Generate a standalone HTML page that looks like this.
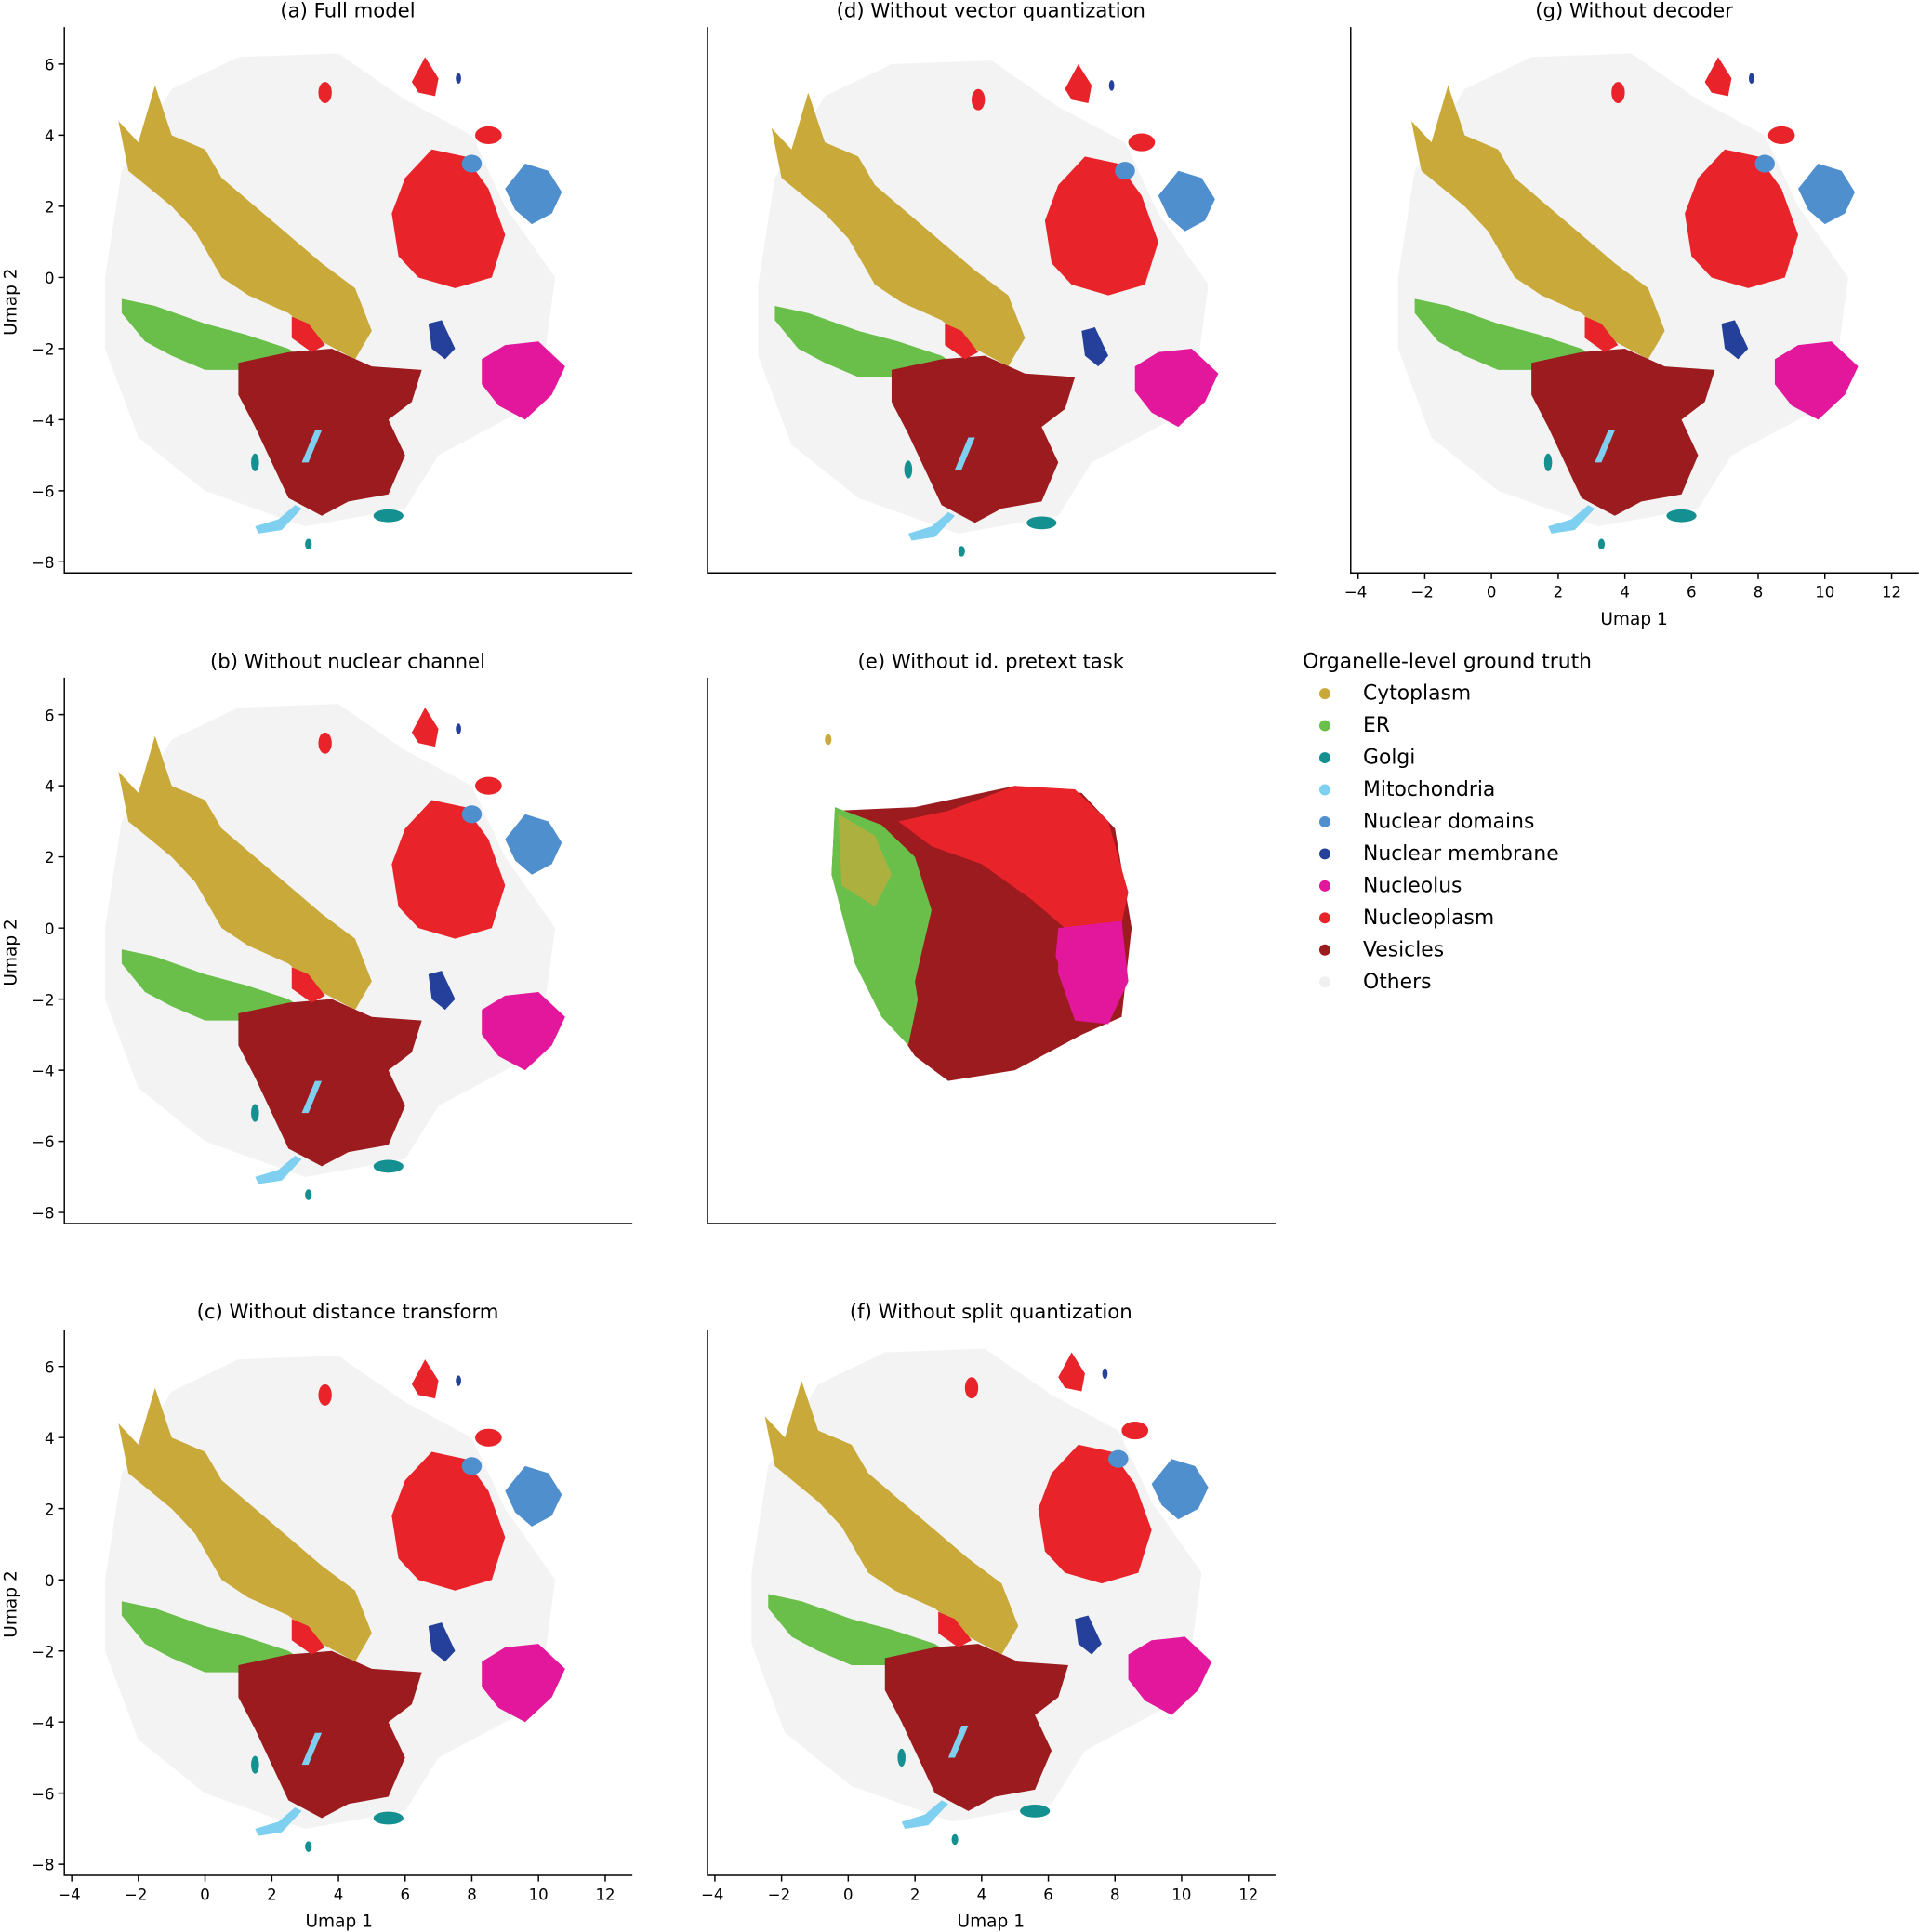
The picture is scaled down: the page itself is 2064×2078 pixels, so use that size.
<!DOCTYPE html>
<html><head><meta charset="utf-8"><style>
html,body{margin:0;padding:0;background:#fff;}
svg{display:block;font-family:"DejaVu Sans","Liberation Sans",sans-serif;}
.t{font-size:12.5px;fill:#000;}
.ti{font-size:16px;fill:#000;text-anchor:middle;}
.lg{font-size:16.5px;fill:#000;}
</style></head><body>
<svg width="2064" height="2078" viewBox="0 0 1557 1568" xmlns="http://www.w3.org/2000/svg">
<defs>
<g id="blobs">
  <polygon fill="#f3f3f3" points="-2.5,3 -1,5.3 1,6.2 4,6.3 6,5 8,4 9,2 10.5,0 10,-3.5 7,-5 6,-6.5 3,-7 0,-6 -2,-4.5 -3,-2 -3,0"/>
  <polygon fill="#c9a93a" points="-2.6,4.4 -2,3.8 -1.5,5.4 -1,4 0,3.6 0.5,2.8 1.5,2 2.5,1.2 3.5,0.4 4.5,-0.3 5,-1.5 4.5,-2.3 3.5,-1.8 2.5,-1 1.3,-0.5 0.5,0 -0.3,1.3 -1,2 -2.3,3"/>
  <polygon fill="#6abf4b" points="-2.5,-0.6 -1.5,-0.8 0,-1.3 1.2,-1.6 2.5,-2 3.5,-2.6 3,-2.9 1.5,-2.6 0,-2.6 -1,-2.2 -1.8,-1.8 -2.5,-1"/>
  <polygon fill="#9b1b1f" points="1,-2.4 2.5,-2.1 3.8,-2 5,-2.5 6.5,-2.6 6.2,-3.5 5.5,-4 6,-5 5.5,-6.1 4.3,-6.3 3.5,-6.7 2.5,-6.2 2,-5.2 1.5,-4.2 1,-3.3"/>
  <polygon fill="#e8232a" points="5.6,1.8 6,2.8 6.8,3.6 7.8,3.4 8.5,2.5 9,1.2 8.6,0 7.5,-0.3 6.4,0 5.8,0.6"/>
  <polygon fill="#e8232a" points="6.2,5.5 6.6,6.2 7,5.6 6.9,5.1 6.4,5.2"/>
  <polygon fill="#e8232a" points="2.6,-1.1 3.1,-1.3 3.6,-1.9 3.2,-2.1 2.6,-1.7"/>
  <ellipse fill="#e8232a" cx="3.6" cy="5.2" rx="0.2" ry="0.3"/>
  <ellipse fill="#e8232a" cx="8.5" cy="4" rx="0.4" ry="0.25"/>
  <polygon fill="#4f8fce" points="9,2.5 9.6,3.2 10.3,3 10.7,2.4 10.4,1.8 9.8,1.5 9.3,1.9"/>
  <ellipse fill="#4f8fce" cx="8" cy="3.2" rx="0.3" ry="0.25"/>
  <polygon fill="#24409a" points="6.7,-1.3 7.1,-1.2 7.5,-2 7.2,-2.3 6.8,-2"/>
  <ellipse fill="#24409a" cx="7.6" cy="5.6" rx="0.08" ry="0.15"/>
  <polygon fill="#e3179b" points="8.3,-2.3 9,-1.9 10,-1.8 10.8,-2.5 10.4,-3.3 9.6,-4 8.8,-3.6 8.3,-3"/>
  <polygon fill="#7fd0f0" points="1.5,-7 2.2,-6.8 2.7,-6.4 2.9,-6.5 2.3,-7.1 1.6,-7.2"/>
  <polygon fill="#7fd0f0" points="3.3,-4.3 3.5,-4.3 3.1,-5.2 2.9,-5.2"/>
  <ellipse fill="#13908f" cx="1.5" cy="-5.2" rx="0.12" ry="0.25"/>
  <ellipse fill="#13908f" cx="5.5" cy="-6.7" rx="0.45" ry="0.18"/>
  <ellipse fill="#13908f" cx="3.1" cy="-7.5" rx="0.1" ry="0.15"/>
</g>
<g id="blobsE">
  <polygon fill="#9b1b1f" points="-0.4,3.3 2,3.4 5,4 7,3.8 8,2.8 8.5,0 8.2,-2.5 7,-3 5,-4 3,-4.3 2,-3.6 0.5,-1.5 -0.5,1.5"/>
  <polygon fill="#6abf4b" points="-0.4,3.4 1,2.9 2,2 2.5,0.5 2.2,-1.5 1.8,-3.3 1,-2.5 0.2,-1 -0.5,1.5"/>
  <polygon fill="#c9a93a" opacity="0.7" points="-0.3,3.2 0.8,2.6 1.3,1.5 0.8,0.6 -0.2,1.2"/>
  <polygon fill="#e8232a" points="1.5,3 3,3.3 5,4 6.8,3.9 7.8,3 8.4,1 8.1,-0.3 6.5,0 5.5,0.8 4,1.8 2.5,2.3"/>
  <polygon fill="#e3179b" points="6.3,0 8.2,0.2 8.4,-1.5 7.8,-2.7 6.8,-2.6 6.2,-1"/>
  <polygon fill="#9b1b1f" points="2.5,0.5 4.5,0.8 5.8,0.3 6.3,-1 6.2,-2.8 5,-3.8 3.2,-4.2 2.3,-3.3 2,-1.5"/>
  <ellipse fill="#c9a93a" cx="-0.6" cy="5.3" rx="0.1" ry="0.15"/>
</g>
</defs>

<use href="#blobs" transform="translate(166.2,225.2) scale(27.06,-28.86)"/>
<use href="#blobs" transform="translate(688.2,225.2) scale(27.06,-28.86) translate(0.3,-0.2)"/>
<use href="#blobs" transform="translate(1210.2,225.2) scale(27.06,-28.86) translate(0.2,0)"/>
<use href="#blobs" transform="translate(166.2,753.2) scale(27.06,-28.86)"/>
<use href="#blobsE" transform="translate(688.2,753.2) scale(27.06,-28.86)"/>
<use href="#blobs" transform="translate(166.2,1282.2) scale(27.06,-28.86)"/>
<use href="#blobs" transform="translate(688.2,1282.2) scale(27.06,-28.86) translate(0.1,0.2)"/>

<g stroke="#000" stroke-width="1.1" fill="none">
<path d="M52,22V465H513"/><path d="M574,22V465H1035"/><path d="M1096,22V465H1557"/>
<path d="M52,550V993H513"/><path d="M574,550V993H1035"/>
<path d="M52,1079V1522H513"/><path d="M574,1079V1522H1035"/>
<path d="M47,52H52M47,109.7H52M47,167.4H52M47,225.2H52M47,282.9H52M47,340.6H52M47,398.3H52M47,456H52"/>
<path d="M47,580H52M47,637.7H52M47,695.4H52M47,753.2H52M47,810.9H52M47,868.6H52M47,926.3H52M47,984H52"/>
<path d="M47,1109H52M47,1166.7H52M47,1224.4H52M47,1282.2H52M47,1339.9H52M47,1397.6H52M47,1455.3H52M47,1513H52"/>
<path d="M58,1522V1527M112.1,1522V1527M166.2,1522V1527M220.4,1522V1527M274.5,1522V1527M328.6,1522V1527M382.7,1522V1527M436.8,1522V1527M491,1522V1527"/>
<path d="M580,1522V1527M634.1,1522V1527M688.2,1522V1527M742.4,1522V1527M796.5,1522V1527M850.6,1522V1527M904.7,1522V1527M958.8,1522V1527M1013,1522V1527"/>
<path d="M1102,465V470M1156.1,465V470M1210.2,465V470M1264.4,465V470M1318.5,465V470M1372.6,465V470M1426.7,465V470M1480.8,465V470M1535,465V470"/>
</g>

<g class="t" text-anchor="end">
<text x="44" y="57">6</text><text x="44" y="114.7">4</text><text x="44" y="172.4">2</text><text x="44" y="230.2">0</text><text x="44" y="287.9">−2</text><text x="44" y="345.6">−4</text><text x="44" y="403.3">−6</text><text x="44" y="461">−8</text>
<text x="44" y="585">6</text><text x="44" y="642.7">4</text><text x="44" y="700.4">2</text><text x="44" y="758.2">0</text><text x="44" y="815.9">−2</text><text x="44" y="873.6">−4</text><text x="44" y="931.3">−6</text><text x="44" y="989">−8</text>
<text x="44" y="1114">6</text><text x="44" y="1171.7">4</text><text x="44" y="1229.4">2</text><text x="44" y="1287.2">0</text><text x="44" y="1344.9">−2</text><text x="44" y="1402.6">−4</text><text x="44" y="1460.3">−6</text><text x="44" y="1518">−8</text>
</g>
<g class="t" text-anchor="middle">
<text x="56" y="1542">−4</text><text x="110.1" y="1542">−2</text><text x="166.2" y="1542">0</text><text x="220.4" y="1542">2</text><text x="274.5" y="1542">4</text><text x="328.6" y="1542">6</text><text x="382.7" y="1542">8</text><text x="436.8" y="1542">10</text><text x="491" y="1542">12</text>
<text x="578" y="1542">−4</text><text x="632.1" y="1542">−2</text><text x="688.2" y="1542">0</text><text x="742.4" y="1542">2</text><text x="796.5" y="1542">4</text><text x="850.6" y="1542">6</text><text x="904.7" y="1542">8</text><text x="958.8" y="1542">10</text><text x="1013" y="1542">12</text>
<text x="1100" y="485">−4</text><text x="1154.1" y="485">−2</text><text x="1210.2" y="485">0</text><text x="1264.4" y="485">2</text><text x="1318.5" y="485">4</text><text x="1372.6" y="485">6</text><text x="1426.7" y="485">8</text><text x="1480.8" y="485">10</text><text x="1535" y="485">12</text>
<text x="275" y="1564" style="font-size:14px">Umap 1</text>
<text x="804" y="1564" style="font-size:14px">Umap 1</text>
<text x="1326" y="507" style="font-size:14px">Umap 1</text>
</g>
<g class="t" text-anchor="middle" style="font-size:14px">
<text transform="translate(13,245) rotate(-90)">Umap 2</text>
<text transform="translate(13,773) rotate(-90)">Umap 2</text>
<text transform="translate(13,1302) rotate(-90)">Umap 2</text>
</g>

<text class="ti" x="282" y="14">(a) Full model</text>
<text class="ti" x="804" y="14">(d) Without vector quantization</text>
<text class="ti" x="1326" y="14">(g) Without decoder</text>
<text class="ti" x="282" y="542">(b) Without nuclear channel</text>
<text class="ti" x="804" y="542">(e) Without id. pretext task</text>
<text class="ti" x="282" y="1070">(c) Without distance transform</text>
<text class="ti" x="804" y="1070">(f) Without split quantization</text>

<text class="lg" x="1057" y="542">Organelle-level ground truth</text>
<circle cx="1075" cy="563" r="4.5" fill="#c9a93a"/><text class="lg" x="1106" y="568">Cytoplasm</text>
<circle cx="1075" cy="589" r="4.5" fill="#6abf4b"/><text class="lg" x="1106" y="594">ER</text>
<circle cx="1075" cy="615" r="4.5" fill="#13908f"/><text class="lg" x="1106" y="620">Golgi</text>
<circle cx="1075" cy="641" r="4.5" fill="#7fd0f0"/><text class="lg" x="1106" y="646">Mitochondria</text>
<circle cx="1075" cy="667" r="4.5" fill="#4f8fce"/><text class="lg" x="1106" y="672">Nuclear domains</text>
<circle cx="1075" cy="693" r="4.5" fill="#24409a"/><text class="lg" x="1106" y="698">Nuclear membrane</text>
<circle cx="1075" cy="719" r="4.5" fill="#e3179b"/><text class="lg" x="1106" y="724">Nucleolus</text>
<circle cx="1075" cy="745" r="4.5" fill="#e8232a"/><text class="lg" x="1106" y="750">Nucleoplasm</text>
<circle cx="1075" cy="771" r="4.5" fill="#9b1b1f"/><text class="lg" x="1106" y="776">Vesicles</text>
<circle cx="1075" cy="797" r="4.5" fill="#efefef"/><text class="lg" x="1106" y="802">Others</text>
</svg>
</body></html>
